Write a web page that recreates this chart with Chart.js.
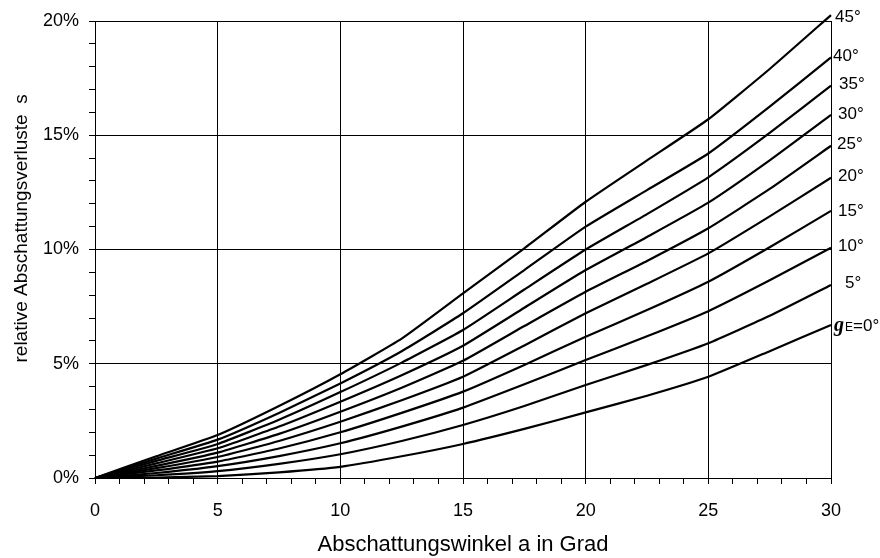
<!DOCTYPE html>
<html><head><meta charset="utf-8">
<style>html,body{margin:0;padding:0;background:#fff;} #wrap{width:880px;height:558px;position:relative;}</style>
<script src="https://cdn.jsdelivr.net/npm/chart.js@4.4.1/dist/chart.umd.min.js"></script>
</head><body><div id="wrap"><canvas id="c"></canvas></div>
<script>
// Abschattungswinkel (x, Grad)
const angles = [0, 2.5, 5, 7.5, 10, 12.5, 15, 17.5, 20, 22.5, 25, 27.5, 30];
// relative Abschattungsverluste s (%) per Neigungswinkel gE
const s0  = [0, 0.02, 0.08, 0.25, 0.49, 0.95, 1.49, 2.15, 2.87, 3.60, 4.43, 5.55, 6.70];
const s5  = [0, 0.12, 0.30, 0.62, 1.04, 1.62, 2.32, 3.15, 4.07, 4.95, 5.90, 7.10, 8.45];
const s10 = [0, 0.22, 0.52, 0.96, 1.52, 2.25, 3.08, 4.10, 5.16, 6.20, 7.30, 8.65, 10.08];
const s15 = [0, 0.33, 0.72, 1.29, 2.00, 2.85, 3.78, 4.95, 6.18, 7.35, 8.59, 10.10, 11.69];
const s20 = [0, 0.43, 0.92, 1.62, 2.46, 3.40, 4.43, 5.80, 7.21, 8.50, 9.83, 11.45, 13.14];
const s25 = [0, 0.53, 1.11, 1.93, 2.90, 3.95, 5.13, 6.65, 8.15, 9.50, 10.93, 12.65, 14.54];
const s30 = [0, 0.64, 1.30, 2.25, 3.34, 4.50, 5.79, 7.45, 9.10, 10.55, 12.05, 13.90, 15.89];
const s35 = [0, 0.75, 1.49, 2.55, 3.76, 5.05, 6.48, 8.25, 10.00, 11.55, 13.16, 15.10, 17.17];
const s40 = [0, 0.85, 1.68, 2.85, 4.14, 5.55, 7.21, 9.10, 11.00, 12.60, 14.20, 16.25, 18.41];
const s45 = [0, 0.95, 1.88, 3.15, 4.54, 6.10, 8.08, 10.05, 12.09, 13.90, 15.70, 17.90, 20.26];
const seriesLabels = ['gE=0°', '5°', '10°', '15°', '20°', '25°', '30°', '35°', '40°', '45°'];
const seriesValues = [s0, s5, s10, s15, s20, s25, s30, s35, s40, s45];
const xTickLabels = ['0', '5', '10', '15', '20', '25', '30'];
const yTickLabels = ['0%', '5%', '10%', '15%', '20%'];

const SANS = '"Liberation Sans", Arial, sans-serif';

const endLabels = {
  id: 'endLabels',
  afterDatasetsDraw(chart, args, opts) {
    const {ctx, scales: {x, y}} = chart;
    ctx.save();
    ctx.fillStyle = '#000';
    ctx.textBaseline = 'middle';
    ctx.textAlign = 'left';
    chart.data.datasets.forEach((ds, i) => {
      const last = ds.data[ds.data.length - 1];
      let px = x.getPixelForValue(last.x) + opts.dx[i];
      const py = y.getPixelForValue(last.y) + opts.dy[i];
      if (i === 0) {
        ctx.textBaseline = 'alphabetic';
        const base = py + 6;
        ctx.font = 'italic bold 20px "Liberation Serif", serif';
        ctx.fillText('g', px, base);
        px += ctx.measureText('g').width + 1;
        ctx.font = '12px ' + SANS;
        ctx.fillText('E', px, base);
        px += ctx.measureText('E').width;
        ctx.font = '17px ' + SANS;
        ctx.fillText('=0°', px, base);
        ctx.textBaseline = 'middle';
      } else {
        ctx.font = '17px ' + SANS;
        ctx.fillText(ds.label, px, py);
      }
    });
    ctx.restore();
  }
};

const datasets = seriesValues.map((vals, i) => ({
  label: seriesLabels[i],
  data: angles.map((a, j) => ({x: a, y: vals[j]})),
  borderColor: '#000',
  backgroundColor: '#000',
  borderWidth: 2.2,
  pointRadius: 0,
  tension: 0.15,
  clip: false
}));

new Chart(document.getElementById('c'), {
  type: 'line',
  data: {datasets},
  plugins: [endLabels],
  options: {
    responsive: true,
    maintainAspectRatio: false,
    animation: false,
    layout: {padding: {left: 0, right: 49, top: 21, bottom: 0}},
    plugins: {
      legend: {display: false},
      tooltip: {enabled: false},
      endLabels: {
        dx: [3, 14, 7, 7, 7, 6, 7, 8, 2, 4],
        dy: [0, -2, -1, 0, -1, -1, -1, -1, -1, 2]
      }
    },
    scales: {
      x: {
        type: 'linear', min: 0, max: 30,
        afterFit(s) { s.height = 80; },
        ticks: {
          stepSize: 1, autoSkip: false, maxRotation: 0, padding: 16,
          color: '#000', font: {family: SANS, size: 18},
          callback: v => (v % 5 === 0 ? xTickLabels[v / 5] : '')
        },
        grid: {
          color: c => (c.tick && c.tick.value % 5 === 0 ? '#000' : 'rgba(0,0,0,0)'),
          lineWidth: 1, tickLength: 6, tickColor: '#000', drawTicks: true
        },
        border: {display: true, color: '#000', width: 1},
        title: {
          display: true, text: 'Abschattungswinkel a in Grad', color: '#000',
          font: {family: SANS, size: 22}, padding: {top: 0, bottom: 0}
        }
      },
      y: {
        type: 'linear', min: 0, max: 20,
        afterFit(s) { s.width = 95; },
        ticks: {
          stepSize: 1, autoSkip: false, padding: 10,
          color: '#000', font: {family: SANS, size: 18},
          callback: v => (v % 5 === 0 ? yTickLabels[v / 5] : '')
        },
        grid: {
          color: c => (c.tick && c.tick.value % 5 === 0 ? '#000' : 'rgba(0,0,0,0)'),
          lineWidth: 1, tickLength: 6, tickColor: '#000', drawTicks: true
        },
        border: {display: true, color: '#000', width: 1},
        title: {
          display: true, text: '        relative Abschattungsverluste  s', color: '#000',
          font: {family: SANS, size: 19}, padding: {top: 10, bottom: 0}
        }
      }
    }
  }
});
</script>
</body></html>
